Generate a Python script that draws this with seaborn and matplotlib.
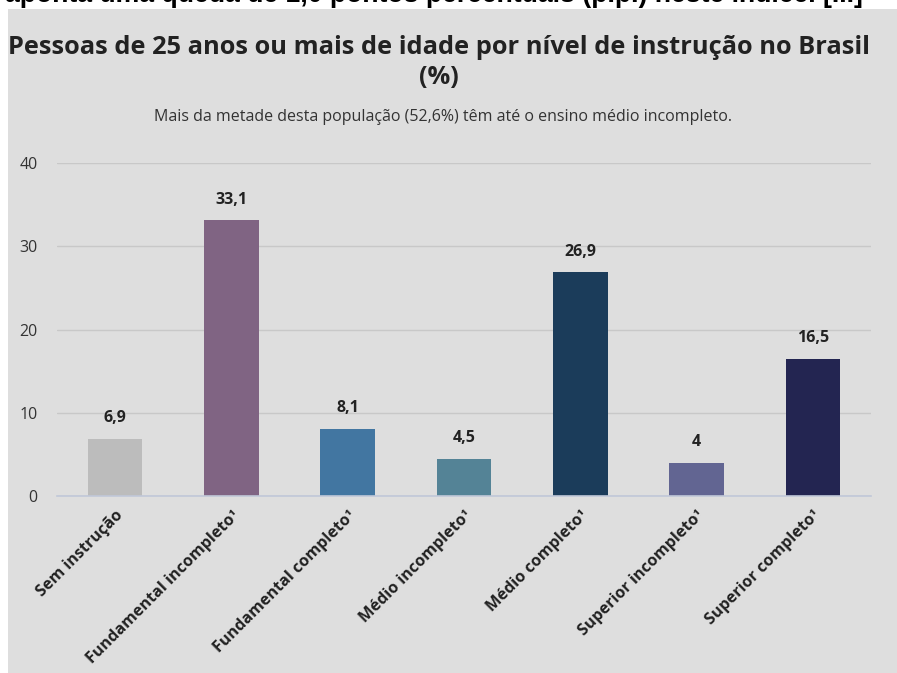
import numpy as np
import pandas as pd
import matplotlib
matplotlib.use('Agg')
import matplotlib.pyplot as plt
import seaborn as sns
from matplotlib.patches import Rectangle

categories = ['Sem instrução', 'Fundamental incompleto¹', 'Fundamental completo¹',
              'Médio incompleto¹', 'Médio completo¹', 'Superior incompleto¹',
              'Superior completo¹']
values = [6.9, 33.1, 8.1, 4.5, 26.9, 4.0, 16.5]
value_labels = ['6,9', '33,1', '8,1', '4,5', '26,9', '4', '16,5']
colors = ['#bcbcbc', '#806483', '#4276a1', '#548396', '#1b3c5a', '#626592', '#232551']
yticks = [0, 10, 20, 30, 40]

title_1 = 'Pessoas de 25 anos ou mais de idade por nível de instrução no Brasil'
title_2 = '(%)'
subtitle = 'Mais da metade desta população (52,6%) têm até o ensino médio incompleto.'
top_text = 'aponta uma queda de 1,0 pontos percentuais (p.p.) neste índice. [...]'

sns.set_style('white')
plt.rcParams['font.family'] = ['Open Sans', 'DejaVu Sans']

data = pd.DataFrame({'cat': categories, 'val': values})

fig = plt.figure(figsize=(8.97, 6.73), dpi=100, facecolor='white')
W, H = 897, 673
# grey panel behind the chart
fig.patches.append(Rectangle((8 / W, 0), 1, 1 - 9 / H, transform=fig.transFigure,
                             facecolor='#dedede', edgecolor='none', zorder=-5))

# cut-off text from the page above
fig.text(5 / W, 1 - 2 / H, top_text, fontsize=19.2, fontweight='bold',
         family='Liberation Sans', color='black', va='baseline', ha='left')

ax = fig.add_axes([57 / W, 1 - 496 / H, (871 - 57) / W, (496 - 163) / H])
ax.set_facecolor('none')

sns.barplot(data=data, x='cat', y='val', hue='cat', palette=colors, legend=False,
            width=0.47, ax=ax, saturation=1, linewidth=0)

ax.set_ylim(0, 40)
ax.set_xlim(-0.5, len(categories) - 0.5)
ax.set_yticks(yticks)
ax.yaxis.grid(True, color='#c8c8c8', linewidth=1)
ax.set_axisbelow(True)
for s in ['top', 'right', 'left']:
    ax.spines[s].set_visible(False)
ax.spines['bottom'].set_color('#c0c8d8')
ax.spines['bottom'].set_linewidth(1.2)

ax.set_xlabel('')
ax.set_ylabel('')
ax.tick_params(axis='y', length=0, pad=14, labelsize=11.5, labelcolor='#333333')

# category labels at bar centres, tick marks at boundaries
ax.set_xticks(range(len(categories)))
ax.set_xticklabels(categories, rotation=45, ha='right', rotation_mode='anchor',
                   fontsize=11.6, fontweight='bold', color='#222222')
ax.tick_params(axis='x', length=0, pad=8)
bounds = np.arange(len(categories) + 1) - 0.5
ax.set_xticks(bounds, minor=True)
ax.tick_params(axis='x', which='minor', length=10, color='#c0c8d8', width=1.2)

for i, (v, lab) in enumerate(zip(values, value_labels)):
    ax.annotate(lab, (i, v), xytext=(0, 9), textcoords='offset points',
                ha='center', va='bottom', fontsize=11.5, fontweight='bold',
                color='#222222')

cx = 439 / W
fig.text(cx, 1 - 47 / H, title_1, ha='center', va='center', fontsize=18.3,
         fontweight='bold', color='#222222')
fig.text(cx, 1 - 78 / H, title_2, ha='center', va='center', fontsize=18.3,
         fontweight='bold', color='#222222')
fig.text(cx + 4 / W, 1 - 117 / H, subtitle, ha='center', va='center', fontsize=11.5,
         color='#333333')

fig.savefig('out.png', dpi=100, facecolor='white')
